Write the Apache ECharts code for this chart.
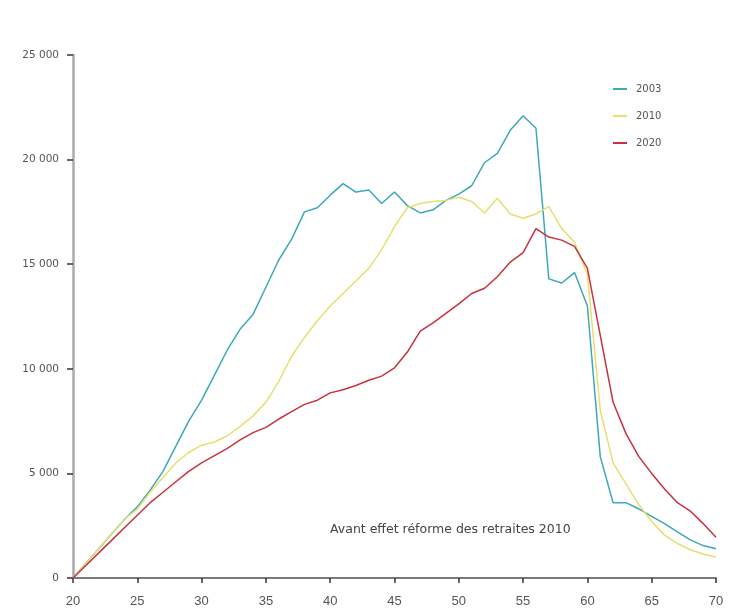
<!DOCTYPE html>
<html>
<head>
<meta charset="utf-8">
<script src="https://cdn.jsdelivr.net/npm/echarts@6/dist/echarts.min.js"></script>
<style>html,body{margin:0;padding:0;background:#fff}#c{width:730px;height:609px}</style>
</head>
<body>
<div id="c"></div>
<script>
const ages = [20,21,22,23,24,25,26,27,28,29,30,31,32,33,34,35,36,37,38,39,40,41,42,43,44,45,46,47,48,49,50,51,52,53,54,55,56,57,58,59,60,61,62,63,64,65,66,67,68,69,70];
const s2003 = [0,700,1400,2100,2800,3400,4200,5100,6300,7500,8500,9700,10900,11900,12600,13900,15200,16200,17500,17700,18300,18850,18450,18550,17900,18450,17800,17450,17600,18050,18350,18750,19850,20300,21400,22100,21500,14300,14100,14600,13000,5800,3600,3600,3300,2950,2600,2200,1820,1550,1400];
const s2010 = [0,700,1400,2100,2800,3300,4100,4800,5500,6000,6350,6500,6800,7250,7750,8400,9400,10600,11500,12300,13000,13600,14200,14800,15700,16800,17700,17900,18000,18050,18200,18000,17450,18150,17400,17200,17400,17750,16700,16050,14500,8000,5500,4500,3500,2700,2050,1650,1350,1150,1000];
const s2020 = [0,600,1200,1800,2400,3000,3600,4100,4600,5100,5500,5850,6200,6600,6950,7200,7600,7950,8300,8500,8850,9000,9200,9450,9650,10050,10800,11800,12200,12650,13100,13600,13850,14400,15100,15550,16700,16300,16150,15850,14800,11600,8400,6900,5800,5000,4250,3600,3200,2600,1950];
const seriesNames = ['2003','2010','2020'];
const annotation = 'Avant effet réforme des retraites 2010';

const zip = a => ages.map((x,i)=>[x,a[i]]);
const colors = ['#3ea7bb','#e6e070','#c7323f'];
const chart = echarts.init(document.getElementById('c'));
chart.setOption({
  animation:false,
  color: colors,
  grid:{left:73,right:14,top:55,bottom:31,containLabel:false},
  legend:{
    orient:'vertical', left:608, top:78,
    itemWidth:14, itemHeight:2, itemGap:15,
    icon:'rect',
    textStyle:{fontSize:10,color:'#555',fontFamily:'DejaVu Sans, sans-serif',lineHeight:12,padding:[0,0,0,4]},
    data: seriesNames
  },
  xAxis:{
    type:'value', min:20, max:70, interval:5,
    axisLine:{lineStyle:{color:'#7a7a7a',width:2}},
    axisTick:{show:true,length:5,lineStyle:{color:'#333',width:1.5}},
    axisLabel:{fontSize:13,color:'#555',margin:17,fontFamily:'Liberation Sans Narrow, Liberation Sans, sans-serif'},
    splitLine:{show:false}
  },
  yAxis:{
    type:'value', min:0, max:25000, interval:5000,
    axisLine:{show:true,lineStyle:{color:'#aaaaaa',width:2.5}},
    axisTick:{show:true,length:6,lineStyle:{color:'#333',width:1.5}},
    axisLabel:{fontSize:10.5,color:'#555',margin:14,fontFamily:'DejaVu Sans, sans-serif',
      formatter:v=>String(v).replace(/\B(?=(\d{3})+(?!\d))/g,' ')},
    splitLine:{show:false}
  },
  graphic:[{type:'text',left:330,top:523,style:{text:annotation,fontSize:12.5,fill:'#444',fontFamily:'DejaVu Sans, sans-serif'}}],
  series:[
    {name:seriesNames[0],type:'line',data:zip(s2003),showSymbol:false,lineStyle:{width:1.5}},
    {name:seriesNames[1],type:'line',data:zip(s2010),showSymbol:false,lineStyle:{width:1.5}},
    {name:seriesNames[2],type:'line',data:zip(s2020),showSymbol:false,lineStyle:{width:1.5}}
  ]
});
</script>
</body>
</html>
